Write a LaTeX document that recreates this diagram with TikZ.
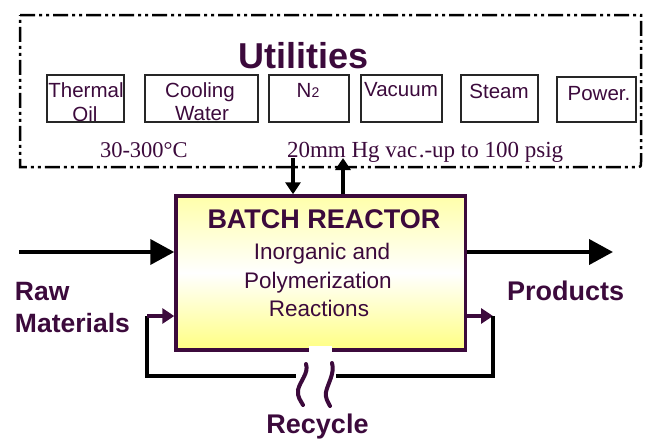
\documentclass[tikz,border=0pt]{standalone}
\usepackage{fontspec}
\setmainfont{Liberation Sans}
\newfontfamily\timesf{Liberation Serif}
\usetikzlibrary{arrows.meta}
\definecolor{plum}{RGB}{60,10,60}
\definecolor{ylwtop}{RGB}{255,255,170}
\definecolor{ylwbot}{RGB}{255,255,130}
\newcommand\fsz[1]{\fontsize{#1}{#1}\selectfont}
\tikzset{
  txt/.style={inner sep=0pt, outer sep=0pt, text=plum},
  ubox/.style={draw=black!85, line width=2pt, minimum height=47pt, inner sep=0pt},
  reactorbox/.style={draw=plum, line width=3.5pt, minimum width=289.5pt, minimum height=154pt,
     inner sep=0pt, top color=ylwtop, bottom color=ylwbot, middle color=white},
  bigarrow/.style={line width=4pt, -{Triangle[length=24pt,width=25pt]}},
  smallarrow/.style={line width=4pt, -{Triangle[length=12pt,width=15pt]}},
  recarrow/.style={draw=plum, line width=3.5pt, -{Triangle[length=12pt,width=15pt]}},
  loopline/.style={line width=3.2pt},
  utilframe/.style={line width=2.5pt, dash pattern=on 15pt off 4pt on 3pt off 4pt on 3pt off 4pt},
  wave/.style={draw=plum, line width=4pt, line cap=round}
}
\begin{document}
\begin{tikzpicture}[x=1pt,y=-1pt]
\useasboundingbox (0,0) rectangle (646,439);
% utilities frame
\draw[utilframe] (20,15) -- (641,15) -- (641,162) .. controls (641,167) .. (636,167) -- (20,167) -- cycle;
\node[txt, anchor=base, font=\bfseries\fsz{36}] (util) at (303.5,68) {Utilities};
% box labels
\node[txt, anchor=base, font=\fsz{20.5}] (thermal) at (86,97) {Thermal};
\node[txt, anchor=base, font=\fsz{20.5}] (oil) at (85,121) {Oil};
\node[txt, anchor=base, font=\fsz{20.5}] (cooling) at (200,97) {Cooling};
\node[txt, anchor=base, font=\fsz{20.5}] (water) at (202,120) {Water};
\node[txt, anchor=base, font=\fsz{20.5}] (ntwo) at (308,97) {N{\fsz{14}2}};
\node[txt, anchor=base, font=\fsz{20.5}] (vacuum) at (401,96) {Vacuum};
\node[txt, anchor=base, font=\fsz{20.5}] (steam) at (499,98) {Steam};
\node[txt, anchor=base, font=\fsz{20.5}] (power) at (599,100) {Power.};
% boxes
\node[ubox, minimum width=77pt] (bthermal) at (85.5,98.5) {};
\node[ubox, minimum width=113pt] (bcooling) at (201.5,98.5) {};
\node[ubox, minimum width=80pt] (bntwo) at (309,98.5) {};
\node[ubox, minimum width=81pt] (bvacuum) at (401.5,98.5) {};
\node[ubox, minimum width=77pt] (bsteam) at (499.5,98.5) {};
\node[ubox, minimum width=79pt, minimum height=45pt] (bpower) at (596.5,99.5) {};
% conditions
\node[txt, anchor=base west, font=\timesf\fsz{22.5}] (temp) at (100,157) {30-300°C};
\node[txt, anchor=base west, font=\timesf\fsz{23}] (press) at (287,157) {20mm Hg vac\kern1.5pt.-up to 100 psig};
% reactor
\node[reactorbox] (reactor) at (320.75,273) {};
\node[txt, anchor=base, font=\bfseries\fsz{27}] (title) at (324,228) {BATCH REACTOR};
\node[txt, anchor=base, font=\fsz{22.5}] (l1) at (322,259) {Inorganic and};
\node[txt, anchor=base, font=\fsz{22.5}] (l2) at (318,288) {Polymerization};
\node[txt, anchor=base, font=\fsz{22.5}] (l3) at (319,316) {Reactions};
% main flows
\coordinate (rawin) at (19,252);
\draw[bigarrow] (rawin) -- (rawin -| reactor.west);
\coordinate (prodout) at (613,252);
\draw[bigarrow] (prodout -| reactor.east) -- (prodout);
% utility connections
\coordinate (utdown) at (293,158);
\draw[smallarrow] (utdown) -- (utdown |- reactor.north);
\coordinate (utup) at (343,158);
\draw[smallarrow] (utup |- reactor.north) -- (utup);
% recycle loop
\coordinate (recR) at (493,316);
\coordinate (recL) at (147,316);
\coordinate (recBR) at (493,376);
\coordinate (recBL) at (147,376);
\draw[recarrow] (recR -| reactor.east) -- (recR);
\draw[loopline] (recR) -- (recBR) -- (recBL) -- (recL);
\draw[recarrow] (recL) -- (recL -| reactor.west);
% break symbol
\fill[white] (309,346) rectangle (332,355);
\fill[white] (296,369) rectangle (336,384);
\draw[wave] (306,364) .. controls (309,373) and (300,381) .. (298,390) .. controls (297,397) and (301,401) .. (303,405);
\draw[wave] (332,363) .. controls (335,373) and (328,383) .. (326,392) .. controls (325,398) and (328,402) .. (330,406);
% side labels
\node[txt, anchor=base west, font=\bfseries\fsz{26.5}] (raw) at (15,300) {Raw};
\node[txt, anchor=base west, font=\bfseries\fsz{26.5}] (mat) at (15,332) {Materials};
\node[txt, anchor=base west, font=\bfseries\fsz{27}] (prod) at (507,300) {Products};
\node[txt, anchor=base, font=\bfseries\fsz{27}] (recyc) at (317.5,433) {Recycle};
\end{tikzpicture}
\end{document}
